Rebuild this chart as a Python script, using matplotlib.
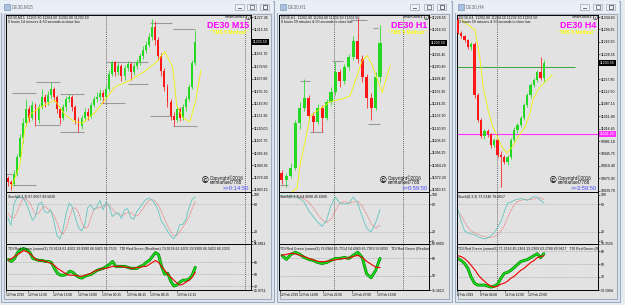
import matplotlib
matplotlib.use("Agg")
import matplotlib.pyplot as plt
from matplotlib.patches import Rectangle
import numpy as np

plt.rcParams['font.family'] = ['Liberation Sans', 'DejaVu Sans']

# ---------------- DATA ----------------
# Window 1: DE30 M15
w1_open0 = 11072
w1_close = [11068, 11066, 11076, 11092, 11110, 11125, 11138, 11130, 11142, 11128,
            11140, 11150, 11145, 11152, 11158, 11150, 11138, 11130, 11140, 11148,
            11150, 11140, 11128, 11122, 11130, 11136, 11132, 11142, 11148, 11150,
            11154, 11150, 11158, 11172, 11184, 11174, 11180, 11170, 11178, 11182,
            11174, 11180, 11184, 11190, 11196, 11200, 11208, 11218, 11205, 11190,
            11175, 11160, 11145, 11132, 11128, 11138, 11130, 11140, 11148, 11160,
            11183, 11203.5]
w1_high = [11074, 11070, 11079, 11095, 11114, 11130, 11148, 11141, 11146, 11144,
           11143, 11158, 11153, 11156, 11165, 11160, 11152, 11140, 11143, 11151,
           11153, 11152, 11142, 11131, 11133, 11139, 11139, 11145, 11151, 11155,
           11158, 11157, 11162, 11176, 11185, 11185, 11183, 11182, 11181, 11185,
           11184, 11183, 11187, 11193, 11199, 11204, 11212, 11226, 11224, 11208,
           11193, 11178, 11163, 11148, 11136, 11141, 11140, 11143, 11151, 11163,
           11186, 11215]
w1_low = [11064, 11060, 11064, 11074, 11090, 11106, 11122, 11126, 11128, 11122,
          11125, 11138, 11140, 11142, 11149, 11146, 11135, 11124, 11128, 11137,
          11145, 11137, 11124, 11116, 11119, 11127, 11128, 11130, 11140, 11145,
          11147, 11144, 11148, 11156, 11170, 11170, 11171, 11166, 11167, 11175,
          11167, 11171, 11177, 11181, 11187, 11193, 11198, 11205, 11200, 11186,
          11170, 11156, 11140, 11128, 11122, 11126, 11127, 11128, 11137, 11146,
          11158, 11181]
w1_ma_x = [1.3, 3.9, 5.5, 7.2, 10.4, 15.3, 18.6, 21.8, 24.4, 28.3, 31.6, 34.9,
           39.7, 44.6, 48.5, 51.1, 53.7, 55.0, 57.0, 59.3, 61.2, 62.9]
w1_ma = [11064, 11084, 11118, 11133, 11140, 11147, 11133, 11126, 11125, 11135,
         11147, 11160, 11166, 11175, 11184, 11194, 11179, 11142, 11130, 11126,
         11147, 11176]
w1_lvl_start = [-0.7, 1.3, 1.3, 9.1, 9.1, 16.9, 16.9, 30.0, 31.9, 39.1, 46.3, 46.3, 53.7, 53.7]
w1_lvl_end = [1.3, 9.1, 9.1, 16.9, 16.9, 24.8, 24.8, 38.1, 45.6, 45.6, 53.4, 53.4, 60.9, 61.6]
w1_lvl_price = [11076, 11154, 11065, 11165, 11123, 11153, 11116, 11144, 11184, 11163,
                11222, 11132, 11216, 11122]
w1_stoch = [51, 34, 80, 95, 95, 93, 82, 64, 45, 53, 80, 84, 64, 61, 68, 43, 12, 5, 26, 61,
            82, 74, 51, 30, 22, 34, 72, 78, 68, 74, 88, 68, 84, 76, 53, 59, 61, 49, 68, 70,
            51, 47, 64, 72, 82, 90, 93, 88, 80, 66, 43, 34, 22, 12, 5, 16, 36, 36, 47, 72,
            90, 95]
w1_stoch_sig = [60, 52, 50, 62, 80, 92, 90, 84, 70, 58, 60, 70, 76, 70, 64, 56, 40, 22, 15, 28,
                50, 70, 72, 62, 42, 28, 30, 50, 68, 72, 72, 76, 78, 78, 70, 62, 58, 56, 58, 62,
                62, 56, 54, 60, 70, 80, 88, 90, 86, 78, 64, 48, 34, 22, 12, 12, 20, 30, 40, 52,
                70, 85]
w1_tdi_green = [72.5, 69.5, 74, 83, 87.5, 89, 87.5, 83, 74, 72.5, 71, 71, 69.5, 69.5, 68,
                59, 51.5, 48.5, 48.5, 50, 54.5, 53, 48.5, 45.5, 44, 47, 48.5, 50, 53, 56,
                57.5, 59, 62, 65, 69.5, 62, 62, 62, 62, 60.5, 59, 59, 59, 62, 63.5, 68, 71,
                77, 83, 80, 62, 50, 51.5, 39.5, 32, 33.5, 38, 41, 41, 42.5, 48.5, 60.5]
w1_tdi_red = [71, 74, 77, 80, 83, 86, 84.5, 81.5, 77, 72.5, 71, 71, 69.5, 68, 66.5, 63.5,
              59, 56, 53, 50, 48.5, 48.5, 48.5, 47, 47, 48.5, 50, 51.5, 54.5, 56, 57.5, 59,
              59, 60.5, 62, 62, 62, 62, 60.5, 60.5, 59, 59, 60.5, 60.5, 62, 62, 65, 68, 71,
              68, 62, 56, 50, 45.5, 41, 36.5, 33.5, 35, 38, 41, 45.5, 53]
w1_price_ticks = [11227.45, 11215.55, 11191.70, 11179.50, 11167.60, 11155.70, 11143.80,
                  11131.90, 11120.00, 11107.75, 11095.85, 11083.95, 11072.00, 11060.15]
w1_time_pos = [-0.8, 6.5, 14.6, 22.8, 30.6, 38.8, 46.3, 55.0]
w1_time_lab = ['12 Feb 2019', '12 Feb 11:00', '12 Feb 15:00', '12 Feb 19:00',
               '13 Feb 00:15', '13 Feb 04:15', '13 Feb 08:15', '13 Feb 12:15']
w1_sep = [31.9, 77.2]

# Window 2: DE30 H1
w2_open0 = 11077
w2_close = [11070, 11074, 11082, 11125, 11140, 11150, 11132, 11126, 11140, 11130, 11146,
            11156, 11175, 11166, 11180, 11190, 11205, 11188, 11170, 11150, 11140, 11170, 11203.5]
w2_high = [11080, 11077, 11086, 11128, 11146, 11168, 11153, 11136, 11144, 11143, 11149,
           11160, 11186, 11178, 11183, 11193, 11210, 11228, 11192, 11173, 11155, 11175, 11221]
w2_low = [11066, 11063, 11072, 11080, 11120, 11137, 11128, 11117, 11124, 11117, 11128,
          11143, 11153, 11160, 11163, 11177, 11187, 11184, 11165, 11140, 11128, 11138, 11165]
w2_ma_x = [2.2, 3.4, 4.0, 5.6, 6.3, 8.5, 10.8, 13.7, 15.3, 16.9, 18.0, 19.1, 20.2, 21.3,
           22.5, 23.4, 24.3]
w2_ma = [11058, 11062, 11083, 11116, 11132, 11139, 11146, 11149, 11152, 11172, 11186,
         11191, 11182, 11169, 11155, 11169, 11181]
w2_lvl_start = [-0.4, 4.0, 6.3, 11.2, 15.3, 19.3, 20.4]
w2_lvl_end = [1.3, 6.3, 9.2, 13.7, 19.1, 22.0, 21.6]
w2_lvl_price = [11065, 11166, 11117, 11186, 11226, 11124, 11218]
w2_stoch = [98, 98, 97, 97, 92, 84, 66, 53, 41, 32, 45, 78, 95, 82, 80, 82, 95, 82, 53,
            28, 20, 39, 68]
w2_stoch_sig = [95, 97, 97, 97, 95, 91, 84, 72, 58, 46, 40, 48, 66, 82, 86, 82, 84, 86,
                76, 58, 38, 28, 35]
w2_tdi_green = [71.2, 67, 72.2, 74.4, 72.2, 69, 67, 65.9, 63.8, 62.7, 63.8, 65.9, 68, 68,
                69, 68, 71.2, 74.4, 69, 52, 47.9, 55.3, 68]
w2_tdi_red = [71.2, 72.2, 73.3, 72.7, 71.2, 70, 68, 66.5, 65, 64.5, 65, 65.9, 66.5, 67.5,
              68, 68.5, 70, 71.2, 69, 65, 62, 59, 58.5]
w2_price_ticks = [11228.55, 11216.50, 11192.45, 11180.40, 11168.40, 11156.35, 11144.35,
                  11132.30, 11120.30, 11108.25, 11096.25, 11084.20, 11072.20, 11060.15]
w2_time_pos = [-0.45, 3.9, 9.2, 15.7, 21.3]
w2_time_lab = ['12 Feb 2019', '12 Feb 14:00', '12 Feb 22:00', '13 Feb 07:00', '13 Feb 15:00']
w2_sep = [11.7, 27.2]

# Window 3: DE30 H4
w3_open0 = 11326
w3_close = [11289, 11280, 11269, 11250, 11258, 11112, 11041, 10995, 11010, 11000, 10970,
            10984, 10941, 10936, 10921, 10936, 10984, 11013, 11027, 11047, 11084, 11112,
            11141, 11155, 11178, 11161, 11203.5]
w3_high = [11334, 11296, 11284, 11272, 11262, 11262, 11118, 11048, 11015, 11016, 11004,
           10990, 10988, 10952, 10942, 10940, 10990, 11020, 11033, 11052, 11090, 11118,
           11146, 11162, 11185, 11221, 11212]
w3_low = [11285, 11274, 11262, 11244, 11240, 11105, 11035, 10990, 10988, 10992, 10962,
          10965, 10935, 10850, 10915, 10912, 10930, 10978, 11005, 11020, 11040, 11078,
          11105, 11135, 11150, 11155, 11150]
w3_ma_x = [1.2, 5.2, 6.7, 7.6, 8.5, 9.1, 10.6, 13.3, 14.8, 16.4, 18.2, 20.3, 21.8, 22.7,
           24.8, 27.0, 28.5]
w3_ma = [11326, 11297, 11212, 11135, 11098, 11070, 11021, 10964, 10947, 10964, 10993,
         11021, 11061, 11101, 11135, 11155, 11169]
w3_green_level = 11193
w3_green_level_end = 35.5
w3_magenta_level = 11001.20
w3_stoch = [67, 43, 22, 18, 16, 14, 10, 7, 5, 7, 12, 18, 30, 43, 63, 82, 84, 88, 90, 92,
            90, 88, 92, 96, 95, 88, 82]
w3_stoch_sig = [62, 56, 42, 30, 22, 18, 15, 12, 10, 8, 8, 10, 14, 22, 34, 50, 66, 78, 85,
                88, 90, 90, 90, 91, 93, 93, 90]
w3_tdi_green = [57.7, 54.9, 50.7, 43.8, 31.2, 22.9, 20.1, 20.1, 20.1, 18.7, 17.3, 18.7,
                21.5, 29.8, 36.8, 38.2, 41, 45.1, 49.3, 53.5, 54.9, 56.3, 59, 61.8, 64.6,
                59, 64.6]
w3_tdi_red = [61.8, 60.4, 57.7, 53.5, 48, 42.4, 35.4, 29.8, 25.7, 21.5, 18.7, 17.3, 18.7,
              21.5, 22.9, 25.7, 29.8, 32.6, 36.8, 41, 43.8, 48, 52.1, 54.9, 59, 60.4, 61.8]
w3_price_ticks = [11334.60, 11299.25, 11263.90, 11228.55, 11157.85, 11122.50, 11087.15,
                  11051.80, 11016.45, 10981.10, 10945.75, 10910.40, 10875.05, 10839.70]
w3_time_pos = [-0.3, 6.7, 14.2, 21.2]
w3_time_lab = ['6 Feb 2019', '8 Feb 04:00', '11 Feb 12:00', '12 Feb 20:00']
w3_sep = [11.8]

current_price = 11203.50

# ---------------- FIGURE ----------------
W, H = 625, 305
fig = plt.figure(figsize=(W / 100, H / 100), dpi=100)
fig.patch.set_facecolor('#e6ebf1')


def px_axes(x0, y0, x1, y1, **kw):
    return fig.add_axes([x0 / W, 1 - y1 / H, (x1 - x0) / W, (y1 - y0) / H], **kw)


chrome = px_axes(0, 0, W, H)
chrome.set_xlim(0, W)
chrome.set_ylim(H, 0)
chrome.axis('off')

windows = [
    dict(x0=0, x1=274, title='DE30,M15', buttons=[235, 247, 260]),
    dict(x0=276, x1=452, title='DE30,H1', buttons=[410, 424, 437]),
    dict(x0=454, x1=620, title='DE30,H4', buttons=[580, 593, 606]),
]
for w in windows:
    x0, x1 = w['x0'], w['x1']
    chrome.add_patch(Rectangle((x0 + 0.5, 0.5), x1 - x0 - 1, 301, fc='#dae3ee', ec='#9aabbe', lw=0.7))
    chrome.add_patch(Rectangle((x0 + 1, 1), x1 - x0 - 2, 12, fc='#e9eff6', ec='none'))
    chrome.add_patch(Rectangle((x0 + 4, 14), x1 - x0 - 7, 285, fc='#e2e2e2', ec='#8595a8', lw=0.5))
    chrome.add_patch(Rectangle((x0 + 3.5, 3.5), 6, 6, fc='#a9c1de', ec='#6d88a8', lw=0.4))
    chrome.text(x0 + 12, 7, w['title'], fontsize=3.3, color='#6a6a6a', va='center', ha='left')
    for bx in w['buttons']:
        chrome.add_patch(Rectangle((bx, 3.5), 9, 6.5, fc='#eef2f7', ec='#8797ab', lw=0.4))
    b = w['buttons']
    chrome.plot([b[0] + 3, b[0] + 6], [8, 8], color='#333', lw=0.5)
    chrome.add_patch(Rectangle((b[1] + 2.5, 5), 4, 3.5, fc='none', ec='#333', lw=0.4))
    chrome.add_patch(Rectangle((b[2] + 2.5, 5), 4, 3.5, fc='none', ec='#333', lw=0.5))

BG = '#e2e2e2'
UP, DN = '#24d824', '#ff1616'


def style(ax):
    ax.set_facecolor(BG)
    for s in ax.spines.values():
        s.set_color('black')
        s.set_linewidth(0.7)
    ax.yaxis.tick_right()
    ax.tick_params(axis='y', labelsize=2.5, length=1.5, width=0.4, pad=0.8, colors='black')
    ax.tick_params(axis='x', bottom=False, labelbottom=False)


def candles(ax, open0, close, high, low, width):
    c = np.asarray(close, float)
    o = np.concatenate([[open0], c[:-1]])
    x = np.arange(len(c))
    cols = np.where(c >= o, UP, DN)
    ax.vlines(x, low, high, colors=cols, lw=0.55, zorder=3)
    bottom = np.minimum(o, c)
    height = np.maximum(np.abs(c - o), 0.6)
    ax.bar(x, height, width, bottom=bottom, color=cols, linewidth=0, zorder=4)


def build(spec):
    px0, px1 = spec['px0'], spec['px1']
    main = px_axes(px0, 15, px1, 192)
    st = px_axes(px0, 192, px1, 244)
    td = px_axes(px0, 244, px1, 290)
    for ax in (main, st, td):
        style(ax)
        ax.set_xlim(*spec['xlim'])
        for s in spec['sep']:
            ax.axvline(s, color='#2a2a2a', lw=0.5, ls=(0, (1.2, 1.6)), zorder=1)
    # main
    main.set_ylim(*spec['ylim'])
    main.set_yticks(spec['pticks'])
    main.set_yticklabels(['%.2f' % v for v in spec['pticks']])
    candles(main, spec['open0'], spec['close'], spec['high'], spec['low'], spec['cw'])
    main.plot(spec['ma_x'], spec['ma'], color='#f2f200', lw=0.6, zorder=5)
    if spec.get('lvl_p'):
        main.hlines(spec['lvl_p'], spec['lvl_s'], spec['lvl_e'], colors='#9a9a9a', lw=0.8, zorder=2)
    main.annotate('%.2f' % current_price, xy=(1, current_price), xycoords=('axes fraction', 'data'),
                  xytext=(1.4, 0), textcoords='offset points', ha='left', va='center',
                  fontsize=2.5, color='white', annotation_clip=False,
                  bbox=dict(boxstyle='square,pad=0.3', fc='black', ec='none'))
    # stoch
    n = len(spec['stoch'])
    xs = np.arange(n)
    st.set_ylim(-6, 106)
    st.set_yticks([100, 80, 20, 0])
    st.set_yticklabels(['100', '80', '20', '0'])
    for lv in (80, 20):
        st.axhline(lv, color='#7a7a7a', lw=0.4, ls=(0, (1, 2)))
    st.plot(xs, spec['stoch_sig'], color='#f07272', lw=0.6, ls=(0, (1.2, 0.8)))
    st.plot(xs, spec['stoch'], color='#60c6c0', lw=0.6)
    st.text(0.008, 0.9, spec['stoch_lab'], transform=st.transAxes, fontsize=2.5,
            ha='left', va='center', color='#111')
    # tdi
    lo, hi = spec['tdi_lim']
    td.set_ylim(lo, hi)
    tt = [hi, 68, 50, 32, lo] if lo < 32 else [hi, 68, 50, lo]
    td.set_yticks(tt)
    td.set_yticklabels([spec['tdi_hi_lab'] if v == hi else spec['tdi_lo_lab'] if v == lo
                        else '%d' % v for v in tt])
    for lv in (68, 50, 32):
        if lo < lv < hi:
            td.axhline(lv, color='#6a6a6a', lw=0.4, ls=(0, (1, 2)))
    td.plot(xs, spec['tdi_g'], color='#008c00', lw=2.1, solid_capstyle='round')
    td.plot(xs, spec['tdi_g'], color='#1ee01e', lw=1.0)
    td.plot(xs, spec['tdi_r'], color='#ee0000', lw=0.8)
    td.text(0.008, 0.9, spec['tdi_lab'], transform=td.transAxes, fontsize=2.5,
            ha='left', va='center', color='#111', clip_on=True)
    td.tick_params(axis='x', bottom=True, labelbottom=True, labelsize=2.35, length=1.5,
                   width=0.4, pad=1.0, colors='black')
    td.set_xticks(spec['tpos'])
    td.set_xticklabels(spec['tlab'])
    for t in td.get_xticklabels():
        t.set_ha('left')
    return main, st, td


specs = [
    dict(px0=6, px1=251, xlim=(-0.6, 79.2), ylim=(11058.2, 11229.4), pticks=w1_price_ticks,
         open0=w1_open0, close=w1_close, high=w1_high, low=w1_low, cw=0.62,
         ma_x=w1_ma_x, ma=w1_ma, lvl_s=w1_lvl_start, lvl_e=w1_lvl_end, lvl_p=w1_lvl_price,
         stoch=w1_stoch, stoch_sig=w1_stoch_sig, stoch_lab='Stoch(8,3,3) 87.8007 89.5620',
         tdi_g=w1_tdi_green, tdi_r=w1_tdi_red, tdi_lim=(25.9711, 96.0811),
         tdi_hi_lab='96.0811', tdi_lo_lab='25.9711',
         tdi_lab='TDI Red Green (zoom#1) 74.9134 62.4202 29.9300 66.9423 56.7503   '
                 'TDI Red Green (Realtime) 74.9134 62.4202 29.9300 66.9423 66.2003',
         tpos=w1_time_pos, tlab=w1_time_lab, sep=w1_sep),
    dict(px0=279, px1=429, xlim=(-0.67, 33.0), ylim=(11058.2, 11230.5), pticks=w2_price_ticks,
         open0=w2_open0, close=w2_close, high=w2_high, low=w2_low, cw=0.68,
         ma_x=w2_ma_x, ma=w2_ma, lvl_s=w2_lvl_start, lvl_e=w2_lvl_end, lvl_p=w2_lvl_price,
         stoch=w2_stoch, stoch_sig=w2_stoch_sig, stoch_lab='Stoch(8,3,3) 64.9098 45.6009',
         tdi_g=w2_tdi_green, tdi_r=w2_tdi_red, tdi_lim=(35.1613, 82.9950),
         tdi_hi_lab='82.9950', tdi_lo_lab='35.1613',
         tdi_lab='TDI Red Green (zoom#2) 76.6964 65.7514 54.6060 65.7953 56.6092   '
                 'TDI Red Green (Realtime) 76.6964 65.7514',
         tpos=w2_time_pos, tlab=w2_time_lab, sep=w2_sep),
    dict(px0=457, px1=598, xlim=(-0.3, 42.4), ylim=(10836.0, 11340.3), pticks=w3_price_ticks,
         open0=w3_open0, close=w3_close, high=w3_high, low=w3_low, cw=0.7,
         ma_x=w3_ma_x, ma=w3_ma, lvl_s=None, lvl_e=None, lvl_p=None,
         stoch=w3_stoch, stoch_sig=w3_stoch_sig, stoch_lab='Stoch(8,3,3) 73.5346 79.6017',
         tdi_g=w3_tdi_green, tdi_r=w3_tdi_red, tdi_lim=(13.1994, 78.3555),
         tdi_hi_lab='78.3555', tdi_lo_lab='13.1994',
         tdi_lab='TDI Red Green (zoom#3) 71.2516 45.2464 19.2309 63.2768 69.9417   '
                 'TDI Red Green (Realtime) 71.2516',
         tpos=w3_time_pos, tlab=w3_time_lab, sep=w3_sep),
]

axes = [build(s) for s in specs]

# window 3 horizontal levels
m3 = axes[2][0]
m3.hlines(w3_green_level, -0.3, w3_green_level_end, colors='#3aa23a', lw=0.7, zorder=2)
m3.axhline(w3_magenta_level, color='#ff30ff', lw=0.8, zorder=2)
m3.annotate('%.2f' % w3_magenta_level, xy=(1, w3_magenta_level), xycoords=('axes fraction', 'data'),
            xytext=(1.4, 0), textcoords='offset points', ha='left', va='center',
            fontsize=2.5, color='white', annotation_clip=False,
            bbox=dict(boxstyle='square,pad=0.3', fc='#ff30ff', ec='none'))

# ---------------- OVERLAY TEXT ----------------
ov = px_axes(0, 0, W, H)
ov.set_xlim(0, W)
ov.set_ylim(H, 0)
ov.axis('off')
ov.patch.set_alpha(0)

texts = [
    dict(px0=6, px1=251, tf='M15', head='DE30,M15  11202.80 11204.00 11202.80 11203.50',
         cnt='0 hours 14 minutes & 50 seconds to close bar', timer='>>0:14:50', cx=210),
    dict(px0=279, px1=429, tf='H1', head='DE30,H1  11202.80 11204.00 11202.80 11203.50',
         cnt='0 hours 59 minutes & 50 seconds to close bar', timer='>>0:59:50', cx=388),
    dict(px0=457, px1=598, tf='H4', head='DE30,H4  11202.80 11204.50 11202.80 11203.50',
         cnt='3 hours 59 minutes & 50 seconds to close bar', timer='>>3:59:50', cx=558),
]
for t in texts:
    ov.text(t['px0'] + 2, 17.6, t['head'], fontsize=2.5, color='#111', ha='left', va='center')
    ov.text(t['px0'] + 2, 22.2, t['cnt'], fontsize=2.5, color='#111', ha='left', va='center')
    ov.text(t['px1'] - 6, 17.4, 'SmartOneB4', fontsize=2.5, color='#111',
            ha='right', va='center')
    ov.plot([t['px1'] - 3.5], [17.4], marker='o', ms=3.0, mfc='none', mec='#111', mew=0.4)
    ov.plot([t['px1'] - 3.5, t['px1'] - 3.5], [16.9, 18.3], color='#111', lw=0.4)
    ov.text(t['px1'] - 2, 25.5, 'DE30 ' + t['tf'], fontsize=6.4, fontweight='bold',
            color='#ff00ff', ha='right', va='center')
    ov.text(t['px1'] - 3, 32.6, "' TMS 5 Method '", fontsize=3.5, fontweight='bold',
            color='#ffff00', ha='right', va='center')
    ov.text(t['cx'] - 5, 180.5, '\u00a9', fontsize=6.5, fontweight='bold', color='#111',
            ha='center', va='center')
    ov.text(t['cx'], 177.7, 'Copyright\u00a92016', fontsize=3.3, color='#111', ha='left', va='center')
    ov.text(t['cx'], 182.8, 'emmanuel7788', fontsize=3.3, color='#111', ha='left', va='center')
    ov.text(t['px1'] - 1.5, 188.6, t['timer'], fontsize=4.2, color='#4b4bff', ha='right', va='center')

fig.savefig('out.png', dpi=100, facecolor=fig.get_facecolor())
